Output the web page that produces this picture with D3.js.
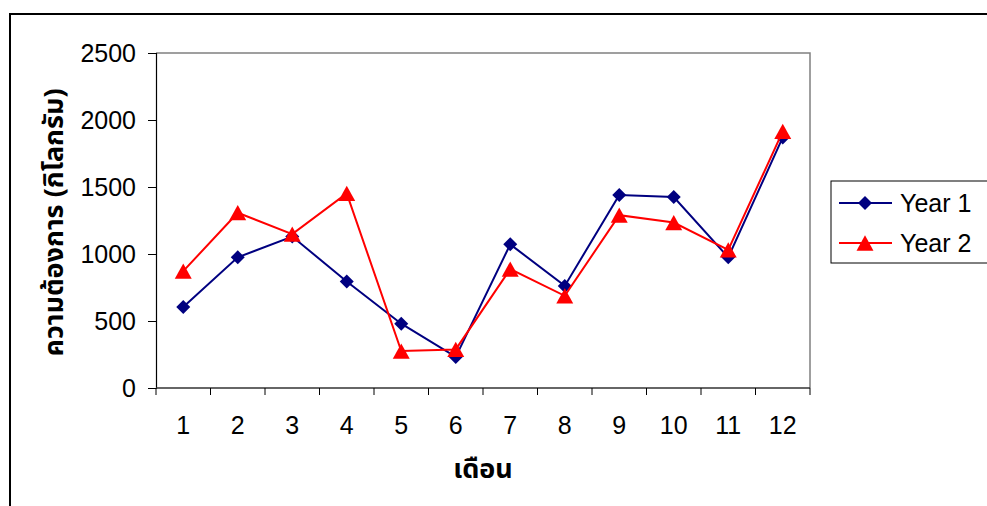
<!DOCTYPE html>
<html>
<head>
<meta charset="utf-8">
<script src="https://cdn.jsdelivr.net/npm/d3@7"></script>
<style>
  html, body { margin: 0; padding: 0; background: #fff; }
  svg { display: block; }
  text { font-family: "Liberation Sans", Arial, sans-serif; fill: #000; }
  .thai { font-family: "Noto Sans Thai", "Loma", "Tahoma", "DejaVu Sans", sans-serif; font-weight: bold; }
</style>
</head>
<body>
<svg id="chart" width="987" height="506"></svg>
<script>
// Monthly demand (kg) for two years
const months = [1, 2, 3, 4, 5, 6, 7, 8, 9, 10, 11, 12];
const year1 = [605, 975, 1130, 795, 480, 232, 1072, 762, 1440, 1425, 975, 1870];
const year2 = [872, 1308, 1148, 1452, 276, 288, 888, 688, 1290, 1235, 1030, 1915];
const yTicks = [0, 500, 1000, 1500, 2000, 2500];
const seriesNames = ["Year 1", "Year 2"];

const svg = d3.select("#chart");
const plot = { left: 156, top: 53, right: 810, bottom: 388 };

// Outer chart frame
svg.append("rect")
  .attr("x", 10).attr("y", 14)
  .attr("width", 1000).attr("height", 520)
  .attr("fill", "#fff").attr("stroke", "#000").attr("stroke-width", 2);

const x = d3.scaleBand().domain(months).range([plot.left, plot.right]).padding(0);
const y = d3.scaleLinear().domain([0, 2500]).range([plot.bottom, plot.top]);

// Plot area border (top/right in grey)
svg.append("path")
  .attr("d", `M${plot.left},${plot.top}H${plot.right}V${plot.bottom}`)
  .attr("fill", "none").attr("stroke", "#808080").attr("stroke-width", 1.5);

// Y axis
const yAxis = svg.append("g")
  .attr("transform", `translate(${plot.left},0)`)
  .call(d3.axisLeft(y).tickValues(yTicks).tickSize(8).tickPadding(12).tickFormat(d3.format("d")));
yAxis.select(".domain").attr("stroke", "#000").attr("stroke-width", 1.2);
yAxis.selectAll(".tick line").attr("stroke", "#000");
yAxis.selectAll("text").attr("font-size", 25).attr("font-family", "Liberation Sans, Arial, sans-serif");

// X axis: ticks on category boundaries, labels at category centers
const xAxisG = svg.append("g").attr("transform", `translate(0,${plot.bottom})`);
xAxisG.append("line")
  .attr("x1", plot.left).attr("x2", plot.right)
  .attr("stroke", "#333").attr("stroke-width", 1.5);
const boundaries = months.map(m => x(m)).concat([x(months[months.length - 1]) + x.bandwidth()]);
xAxisG.selectAll("line.tk").data(boundaries).enter().append("line")
  .attr("class", "tk")
  .attr("x1", d => d).attr("x2", d => d)
  .attr("y1", 0).attr("y2", 7)
  .attr("stroke", "#000").attr("stroke-width", 1);
xAxisG.selectAll("text.lbl").data(months).enter().append("text")
  .attr("class", "lbl")
  .attr("x", d => x(d) + x.bandwidth() / 2)
  .attr("y", 46)
  .attr("text-anchor", "middle")
  .attr("font-size", 25)
  .text(d => d);

// Axis titles
svg.append("text")
  .attr("class", "thai")
  .attr("transform", `translate(63,${(plot.top + plot.bottom) / 2 + 2}) rotate(-90)`)
  .attr("text-anchor", "middle")
  .attr("font-size", 27)
  .text("ความต้องการ (กิโลกรัม)");
svg.append("text")
  .attr("class", "thai")
  .attr("x", (plot.left + plot.right) / 2)
  .attr("y", 478)
  .attr("text-anchor", "middle")
  .attr("font-size", 27)
  .text("เดือน");

const cx = d => x(d) + x.bandwidth() / 2;
const line = d3.line();

// Markers: rotated square and a triangle centred on its bounding box
const diamond = d3.symbol().type(d3.symbolDiamond2).size(125);
const triangleType = {
  draw(ctx, size) {
    const w = Math.sqrt(size * 2.3), h = w * 0.9;
    ctx.moveTo(0, -h / 2);
    ctx.lineTo(w / 2, h / 2);
    ctx.lineTo(-w / 2, h / 2);
    ctx.closePath();
  }
};
const triangle = d3.symbol().type(triangleType).size(125);

function drawSeries(values, color, sym) {
  const pts = months.map((m, i) => [cx(m), y(values[i])]);
  svg.append("path")
    .attr("d", line(pts))
    .attr("fill", "none").attr("stroke", color).attr("stroke-width", 2);
  svg.selectAll(null).data(pts).enter().append("path")
    .attr("d", sym)
    .attr("transform", d => `translate(${d[0]},${d[1]})`)
    .attr("fill", color);
}
drawSeries(year1, "#000080", diamond);
drawSeries(year2, "#ff0000", triangle);

// Legend
const lg = svg.append("g");
lg.append("rect")
  .attr("x", 831).attr("y", 181).attr("width", 170).attr("height", 82)
  .attr("fill", "#fff").attr("stroke", "#000").attr("stroke-width", 1);
const legendItems = [
  { name: seriesNames[0], color: "#000080", sym: diamond, y: 203 },
  { name: seriesNames[1], color: "#ff0000", sym: triangle, y: 243 }
];
legendItems.forEach(it => {
  lg.append("line")
    .attr("x1", 839).attr("x2", 892).attr("y1", it.y).attr("y2", it.y)
    .attr("stroke", it.color).attr("stroke-width", 2);
  lg.append("path").attr("d", it.sym)
    .attr("transform", `translate(865,${it.y})`).attr("fill", it.color);
  lg.append("text")
    .attr("x", 900).attr("y", it.y + 9)
    .attr("font-size", 25)
    .text(it.name);
});
</script>
</body>
</html>
